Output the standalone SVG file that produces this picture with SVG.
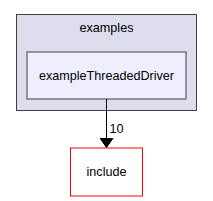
<svg xmlns="http://www.w3.org/2000/svg" width="213" height="201" viewBox="0 0 213 201">
<defs>
<style>
text{font-family:"Liberation Sans",Arial,sans-serif;font-size:12.6px;fill:#000;text-anchor:middle}
</style>
<marker id="ah" markerWidth="10" markerHeight="14" refX="10" refY="7" orient="auto" markerUnits="userSpaceOnUse">
<path d="M0,0 L10,7 L0,14 Z" fill="#000" stroke="#000"/>
</marker>
</defs>
<rect width="213" height="201" fill="#fff"/>
<g id="cluster_examples">
<rect x="16.5" y="14.5" width="180" height="96" fill="#ddddee" stroke="#404040"/>
<text x="106.5" y="32">examples</text>
</g>
<g id="node_exampleThreadedDriver">
<rect x="27" y="52" width="159" height="47" fill="#eeeeff" stroke="#404040"/>
<text x="106.5" y="80">exampleThreadedDriver</text>
</g>
<g id="node_include">
<rect x="70.5" y="148" width="72" height="48" fill="#fff" stroke="#ff0000"/>
<text x="106.5" y="175.5">include</text>
</g>
<g id="connectors">
<line x1="106.5" y1="99" x2="106.5" y2="147.5" stroke="#000" marker-end="url(#ah)"/>
<text x="116.5" y="133">10</text>
</g>
</svg>
